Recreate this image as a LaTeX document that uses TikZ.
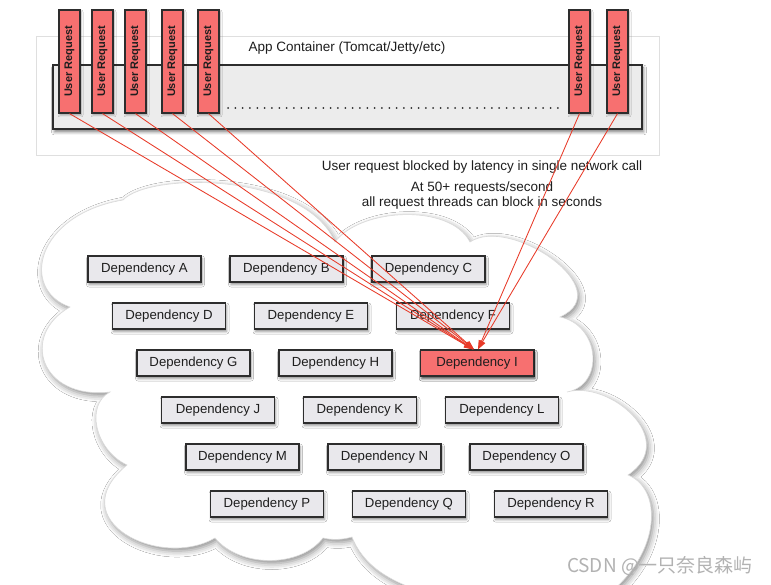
\documentclass[tikz,border=0pt]{standalone}
\usepackage{fontspec}
\setmainfont{Liberation Sans}
\newfontfamily\cjkfont{Noto Sans CJK SC}
\usetikzlibrary{shadows.blur,arrows.meta}
\definecolor{salmon}{RGB}{247,112,112}
\definecolor{depfill}{RGB}{233,232,236}
\definecolor{boxline}{RGB}{45,45,45}
\definecolor{redline}{RGB}{232,58,40}
\definecolor{contfill}{RGB}{236,236,236}
\definecolor{txt}{RGB}{30,30,30}
\begin{document}
\begin{tikzpicture}[x=1pt,y=-1pt,
  depbox/.style={draw=boxline, line width=1.3pt, fill=depfill, minimum width=113pt, minimum height=26pt, inner sep=0pt,
    font=\fontsize{13.2}{15}\selectfont, text=txt,
    blur shadow={shadow xshift=1pt, shadow yshift=-2.5pt, shadow blur radius=2.5pt, shadow opacity=45}},
  hotbox/.style={depbox, fill=salmon},
  urbox/.style={draw=boxline, line width=1.2pt, fill=salmon, rotate=90, minimum width=103pt, minimum height=21pt, inner sep=0pt,
    font=\fontsize{11}{13}\selectfont\bfseries, text=txt,
    blur shadow={shadow xshift=1pt, shadow yshift=-2pt, shadow blur radius=2pt, shadow opacity=35}},
  reqline/.style={draw=redline, line width=0.85pt, -{Triangle[length=9pt,width=6pt]}},
  label/.style={font=\fontsize{13.5}{16}\selectfont, text=txt, inner sep=0pt},
]
\useasboundingbox (0,0) rectangle (771,585);
\clip (0,0) rectangle (771,585);
\fill[white] (0,0) rectangle (771,585);

% cloud
\path[draw=gray!30, line width=0.6pt, fill=white,
  blur shadow={shadow xshift=2pt, shadow yshift=-3pt, shadow blur radius=6pt, shadow opacity=45}]
  (123,200) .. controls (150,172) and (305,172) .. (335,242)
  .. controls (360,208) and (450,203) .. (470,242)
  .. controls (510,215) and (620,290) .. (560,317)
  .. controls (600,325) and (605,385) .. (567,392)
  .. controls (610,380) and (680,440) .. (628,475)
  .. controls (665,490) and (660,560) .. (600,600)
  -- (460,600)
  .. controls (400,590) and (365,570) .. (352,537)
  .. controls (342,540) and (332,540) .. (323,538)
  .. controls (300,568) and (240,568) .. (215,538)
  .. controls (160,570) and (60,520) .. (127,465)
  .. controls (95,450) and (85,405) .. (110,392)
  .. controls (40,400) and (20,335) .. (70,307)
  .. controls (20,290) and (35,215) .. (123,200) -- cycle;

% app container
\node[draw=gray!25, line width=0.8pt, fill=white, minimum width=623pt, minimum height=119pt, inner sep=0pt] (outer) at (347.5,95.5) {};
\node[draw=boxline, line width=1.2pt, fill=contfill, minimum width=589pt, minimum height=64pt, inner sep=0pt,
  blur shadow={shadow xshift=1.5pt, shadow yshift=-3pt, shadow blur radius=3pt, shadow opacity=50}] (inner) at (347.5,97) {};
\node[label] (apptitle) at (347,48) {App Container (Tomcat/Jetty/etc)};
\coordinate (dotL) at (228,108);
\coordinate (dotR) at (558,108);
\draw[boxline, line width=2pt, line cap=round, dash pattern=on 0pt off 7.33pt] (dotL) -- (dotR);

% user requests
\node[urbox] (ur1) at (69.5,61.5) {User Request};
\node[urbox] (ur2) at (102.5,61.5) {User Request};
\node[urbox] (ur3) at (135.5,61.5) {User Request};
\node[urbox] (ur4) at (172.5,61.5) {User Request};
\node[urbox] (ur5) at (208.5,61.5) {User Request};
\node[urbox] (ur6) at (579.5,61.5) {User Request};
\node[urbox] (ur7) at (617.5,61.5) {User Request};

% texts
\node[label] (t1) at (482,167) {User request blocked by latency in single network call};
\node[label] (t2) at (482,188) {At 50+ requests/second};
\node[label] (t3) at (482,203) {all request threads can block in seconds};

% dependencies
\foreach \r/\a/\b/\c in {0/A/B/C,1/D/E/F,2/G/H/I,3/J/K/L,4/M/N/O,5/P/Q/R}{
  \pgfmathsetmacro{\xx}{144.5+24.5*\r}
  \pgfmathsetmacro{\yy}{269+47*\r}
  \node[depbox] (dep\a) at (\xx,\yy) {Dependency \a};
  \node[depbox] (dep\b) at (\xx+142,\yy) {Dependency \b};
  \ifx\c I
  \else
    \node[depbox] (dep\c) at (\xx+284,\yy) {Dependency \c};
  \fi
}
\node[hotbox] (depI) at (477,363) {Dependency I};

% request lines
\draw[reqline] (ur1.west) -- ([xshift=-4pt]depI.north);
\draw[reqline] (ur2.west) -- ([xshift=-4pt]depI.north);
\draw[reqline] (ur3.west) -- ([xshift=-4pt]depI.north);
\draw[reqline] (ur4.west) -- ([xshift=-3pt]depI.north);
\draw[reqline] (ur5.west) -- ([xshift=-3pt]depI.north);
\draw[reqline] (ur6.west) -- ([xshift=1pt]depI.north);
\draw[reqline] (ur7.west) -- ([xshift=1pt]depI.north);

% watermark
\node[font=\cjkfont\fontsize{19}{22}\selectfont, text=gray!60, inner sep=0pt] (wm) at (660,566) {CSDN @一只奈良森屿};
\end{tikzpicture}
\end{document}
